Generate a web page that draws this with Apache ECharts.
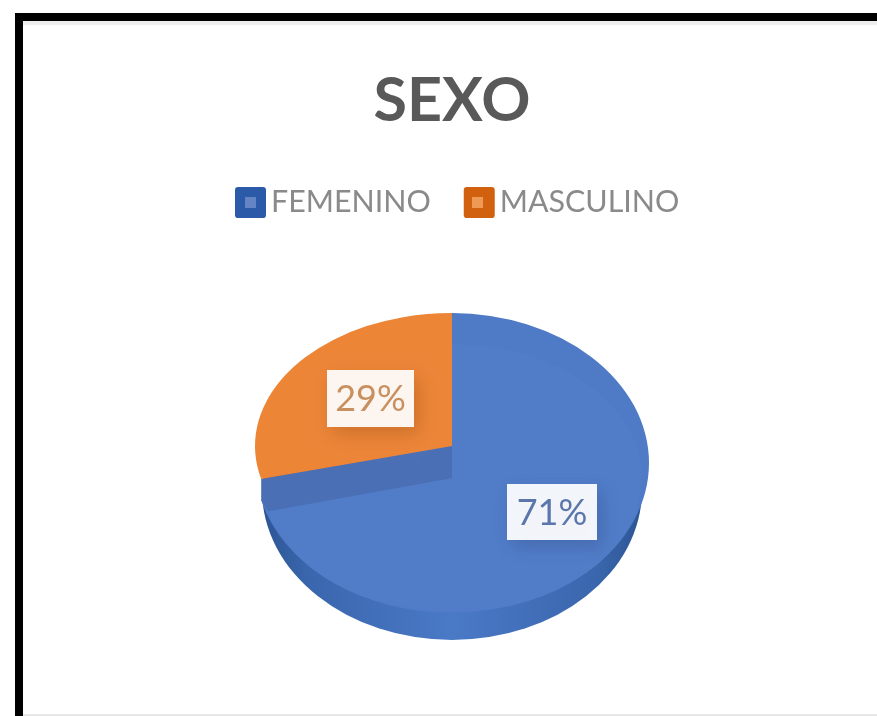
<!DOCTYPE html>
<html><head><meta charset="utf-8">
<style>html,body{margin:0;padding:0;background:#fff}#c{width:877px;height:716px}</style>
<script src="https://cdn.jsdelivr.net/npm/echarts@6/dist/echarts.min.js"></script>
</head><body><div id="c"></div>
<script>
var title = 'SEXO';
var categories = ['FEMENINO', 'MASCULINO'];
var values = [71, 29];
var total = values[0] + values[1];

var FONT = 'Lato, "Open Sans", sans-serif';
var CX = 452, TOP = -Math.PI / 2;

function ell(cy, rx, ry, a0, a1, fill, z) {
  return {type:'sector', x:CX, y:cy, scaleX:1, scaleY:ry/rx, z2:z,
    shape:{cx:0, cy:0, r0:0, r:rx, startAngle:a0, endAngle:a1, clockwise:true},
    style:{fill:fill, stroke:null}};
}
function ptOn(cy, rx, ry, a) { return [CX + rx*Math.cos(a), cy + ry*Math.sin(a)]; }
function labelEls(text, x, y, w, h, color, shadow) {
  return [
    {type:'rect', z2:20, shape:{x:x, y:y, width:w, height:h},
      style:{fill:'rgba(255,255,255,0.93)', shadowBlur:18, shadowColor:shadow, shadowOffsetX:5, shadowOffsetY:7}},
    {type:'text', z2:21, x:x+w/2, y:y+h/2+1,
      style:{text:text, fill:color, font:'36px '+FONT, align:'center', verticalAlign:'middle'}}
  ];
}
function renderBlue(params, api) {
  var v = api.value(0);
  var end = TOP + 2*Math.PI*v/total;
  var side = new echarts.graphic.LinearGradient(0,0,1,0,[
    {offset:0,color:'#2c5594'},{offset:.12,color:'#3a66ad'},{offset:.5,color:'#4a79c6'},
    {offset:.88,color:'#3a66ad'},{offset:1,color:'#2c5594'}]);
  var wall = [ [CX,446], ptOn(446,197,133,end), ptOn(463,197,150,end), ptOn(478,190,134,end), [CX,478] ];
  return {type:'group', children:[
    ell(490,190,150,0,2*Math.PI,side,1),
    ell(463,197,150,TOP,end,'#4e7ac6',2),
    {type:'polygon', z2:4, shape:{points:wall}, style:{fill:'#4a6fb4'}},
    ell(478,190,134,TOP,end,'#507cc8',3)
  ].concat(labelEls(Math.round(v/total*100)+'%',507,484,90,56,'#5a76ab','rgba(40,60,110,0.3)'))};
}
function renderOrange(params, api) {
  var v = api.value(0);
  var start = 3*Math.PI/2 - 2*Math.PI*v/total;
  return {type:'group', children:[
    ell(446,197,133,start,3*Math.PI/2,'#ed8537',6)
  ].concat(labelEls(Math.round(v/total*100)+'%',327,370,87,57,'#c9905f','rgba(120,60,10,0.3)'))};
}

var chart = echarts.init(document.getElementById('c'), null, {renderer:'canvas'});
chart.setOption({
  animation:false,
  backgroundColor:'#fff',
  title:{text:title, left:447, top:66, textAlign:'center',
    textStyle:{fontFamily:FONT, fontSize:61, fontWeight:'bold', color:'#595959'}},
  legend:{left:230, top:182, itemWidth:31, itemHeight:31, itemGap:33,
    icon:'path://M1,0H9Q10,0 10,1V9Q10,10 9,10H1Q0,10 0,9V1Q0,0 1,0Z',
    data:[
      {name:categories[0], itemStyle:{color:'#2b5aa8'}},
      {name:categories[1], itemStyle:{color:'#d2610f'}}
    ],
    textStyle:{fontFamily:FONT, fontSize:30.4, color:'#8a8a8a'}},
  graphic:[
    {type:'rect', z:-1, silent:true, shape:{x:23,y:21,width:854,height:4}, style:{fill:'#eeeeee'}},
    {type:'rect', z:-1, silent:true, shape:{x:15,y:13,width:8,height:703}, style:{fill:'#000'}},
    {type:'rect', z:-1, silent:true, shape:{x:15,y:13,width:862,height:8}, style:{fill:'#000'}},
    {type:'rect', z:-1, silent:true, shape:{x:23,y:714,width:854,height:2}, style:{fill:'#e8e8e8'}},
    {type:'rect', z:50, silent:true, shape:{x:245,y:197,width:11,height:11}, style:{fill:'#6484c4'}},
    {type:'rect', z:50, silent:true, shape:{x:472,y:197,width:11,height:11}, style:{fill:'#ee9a55'}}
  ],
  series:[
    {type:'custom', name:categories[0], coordinateSystem:'none', data:[[values[0]]], renderItem:renderBlue, color:'#2b5aa8', silent:true, clip:false},
    {type:'custom', name:categories[1], coordinateSystem:'none', data:[[values[1]]], renderItem:renderOrange, color:'#d2610f', silent:true, clip:false}
  ]
});
</script></body></html>
